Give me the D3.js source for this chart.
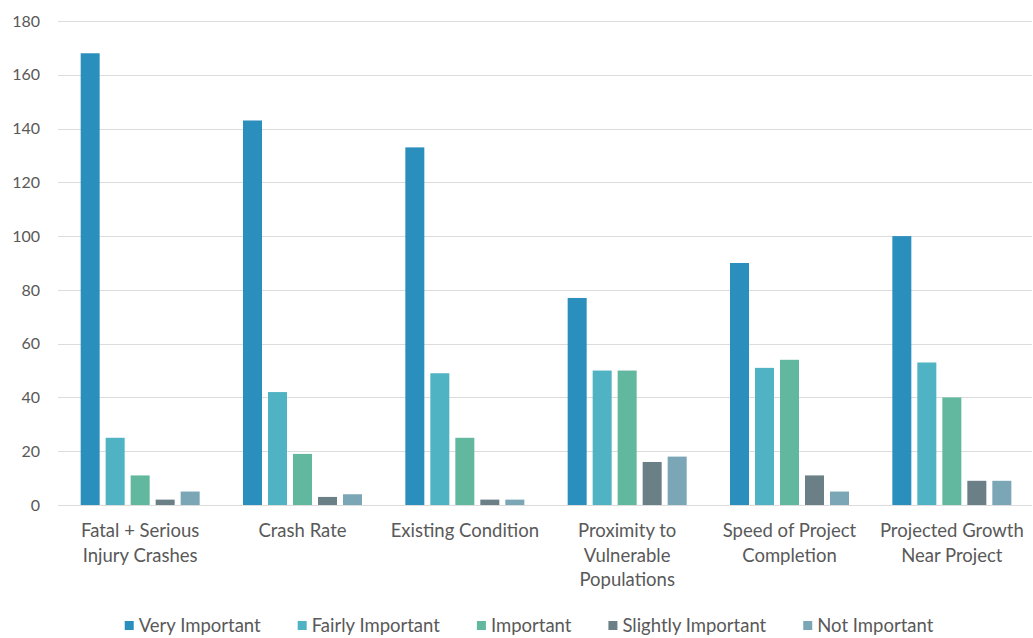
<!DOCTYPE html>
<html>
<head>
<meta charset="utf-8">
<script src="https://cdn.jsdelivr.net/npm/d3@7"></script>
<style>
  html, body { margin: 0; padding: 0; background: #ffffff; }
  svg { display: block; }
  text { font-family: Lato, "Open Sans", sans-serif; fill: #595959; }
</style>
</head>
<body>
<svg id="chart" width="1033" height="638"></svg>
<script>
// Criteria rated by respondents
const categories = [
  ["Fatal + Serious", "Injury Crashes"],
  ["Crash Rate"],
  ["Existing Condition"],
  ["Proximity to", "Vulnerable", "Populations"],
  ["Speed of Project", "Completion"],
  ["Projected Growth", "Near Project"]
];
const seriesNames = ["Very Important", "Fairly Important", "Important", "Slightly Important", "Not Important"];
const veryImportant     = [168, 143, 133, 77, 90, 100];
const fairlyImportant   = [25, 42, 49, 50, 51, 53];
const important         = [11, 19, 25, 50, 54, 40];
const slightlyImportant = [2, 3, 2, 16, 11, 9];
const notImportant      = [5, 4, 2, 18, 5, 9];
const yTicks = [0, 20, 40, 60, 80, 100, 120, 140, 160, 180];
const colors = ["#2b8fbd", "#50b3c3", "#62b89e", "#6b7f86", "#7aa6b6"];

const seriesValues = [veryImportant, fairlyImportant, important, slightlyImportant, notImportant];

const svg = d3.select("#chart");
const margin = { left: 58, right: 1, top: 21, bottom: 133 };
const width = 1033, height = 638;
const plotW = width - margin.left - margin.right;
const plotH = height - margin.top - margin.bottom;

const g = svg.append("g").attr("transform", `translate(${margin.left},${margin.top})`);

const x0 = d3.scaleBand().domain(d3.range(categories.length)).range([0, plotW]).paddingInner(0).paddingOuter(0);
const x1 = d3.scaleBand().domain(d3.range(seriesNames.length)).range([0, 119]).paddingInner(0.24).paddingOuter(0);
const y = d3.scaleLinear().domain([0, 180]).range([plotH, 0]);

// Horizontal gridlines
g.append("g")
  .selectAll("line")
  .data(yTicks)
  .join("line")
  .attr("x1", 0)
  .attr("x2", plotW)
  .attr("y1", d => Math.round(y(d)) + 0.5)
  .attr("y2", d => Math.round(y(d)) + 0.5)
  .attr("stroke", "#dcdcdc")
  .attr("stroke-width", 1);

// Y axis labels
const yAxis = d3.axisLeft(y).tickValues(yTicks).tickSize(0).tickPadding(18);
const yg = g.append("g").call(yAxis);
yg.select(".domain").remove();
yg.selectAll("text")
  .style("font-family", "Lato, 'Open Sans', sans-serif")
  .style("font-size", "16px")
  .attr("fill", "#595959");

// Bars
const groups = g.append("g")
  .selectAll("g")
  .data(categories.map((c, i) => i))
  .join("g")
  .attr("transform", i => `translate(${x0(i) + (x0.bandwidth() - 119) / 2 + 1},0)`);

groups.selectAll("rect")
  .data(i => seriesValues.map((vals, s) => ({ s, v: vals[i] })))
  .join("rect")
  .attr("x", d => x1(d.s))
  .attr("width", x1.bandwidth())
  .attr("y", d => y(d.v))
  .attr("height", d => y(0) - y(d.v))
  .attr("fill", d => colors[d.s]);

// Category labels (multi-line)
const xl = g.append("g")
  .selectAll("text")
  .data(categories)
  .join("text")
  .attr("text-anchor", "middle")
  .attr("transform", (d, i) => `translate(${x0(i) + x0.bandwidth() / 2 + 1},${plotH + 32})`)
  .style("font-size", "18.5px");
xl.selectAll("tspan")
  .data(d => d)
  .join("tspan")
  .attr("x", 0)
  .attr("dy", (d, j) => j === 0 ? 0 : 24.5)
  .text(d => d);

// Legend
const legend = svg.append("g").attr("transform", "translate(0,632)");
const items = legend.selectAll("g")
  .data(seriesNames)
  .join("g");
items.append("rect")
  .attr("width", 9)
  .attr("height", 9)
  .attr("y", -11)
  .attr("fill", (d, i) => colors[i]);
items.append("text")
  .attr("x", 14)
  .attr("y", 0)
  .style("font-size", "18.5px")
  .text(d => d);

let widths = [];
items.each(function() {
  widths.push(this.querySelector("text").getComputedTextLength() + 14);
});
const gap = 37;
const total = d3.sum(widths) + gap * (widths.length - 1);
let cx = 529 - total / 2;
items.attr("transform", (d, i) => {
  const t = `translate(${cx},0)`;
  cx += widths[i] + gap;
  return t;
});
</script>
</body>
</html>
